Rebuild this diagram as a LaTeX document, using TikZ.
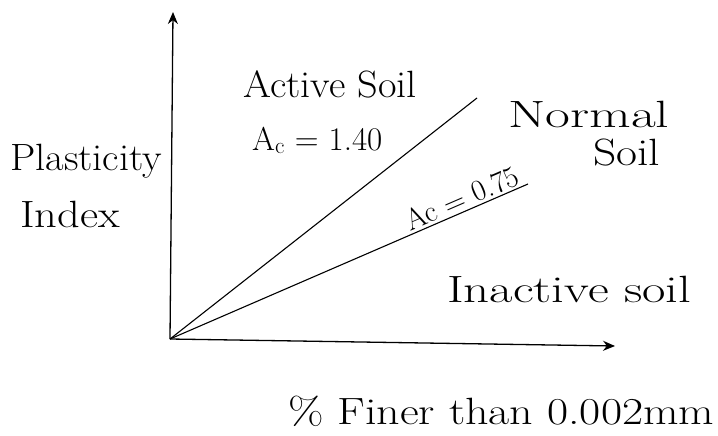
\documentclass[tikz,border=0pt]{standalone}
\usepackage{tikz}
\usetikzlibrary{positioning,arrows.meta}
\newcommand{\hw}[2]{\scalebox{#1}[1]{#2}}
\tikzset{
  axis/.style={line width=1.3pt,-{Stealth[length=12pt,width=10pt]}},
  aline/.style={line width=1.1pt},
  lbl/.style={font=\fontsize{38}{42}\selectfont,inner sep=0pt,anchor=base west},
  small/.style={font=\fontsize{33}{36}\selectfont},
  every picture/.style={x=1pt,y=-1pt}
}
\begin{document}
\begin{tikzpicture}
  \useasboundingbox (0,0) rectangle (718,436);
  % axes
  \coordinate (O) at (170,339);
  \coordinate (ytop) at (173,12);
  \coordinate (xend) at (615,346);
  \coordinate (act) at (477,98);
  \coordinate (nor) at (528,184);
  \draw[axis] (O) -- (ytop);
  \draw[axis] (O) -- (xend);
  \draw[aline] (O) -- (act);
  \draw[aline] (O) -- node[font=\fontsize{30}{34}\selectfont,inner sep=0pt,pos=0.83,sloped,above=2pt] (aclow) {Ac = 0.75} (nor);
  % labels
  \node[lbl] (plast) at (10,170) {\hw{1.06}{Plasticity}};
  \node[lbl] (index) at (20,227) {\hw{1.17}{Index}};
  \node[lbl] (active) at (243,97) {\hw{1.06}{Active Soil}};
  \node[lbl,small] (achigh) at (252,150) {A\textsubscript{c} = 1.40};
  \node[lbl] (normal) at (508,127) {\hw{1.42}{Normal}};
  \node[lbl] (nsoil) at (593,165) {\hw{1.2}{Soil}};
  \node[lbl] (inact) at (447,302) {\hw{1.34}{Inactive soil}};
  \node[lbl] (finer) at (288,424) {\hw{1.21}{\% Finer than 0.002mm}};
\end{tikzpicture}
\end{document}
